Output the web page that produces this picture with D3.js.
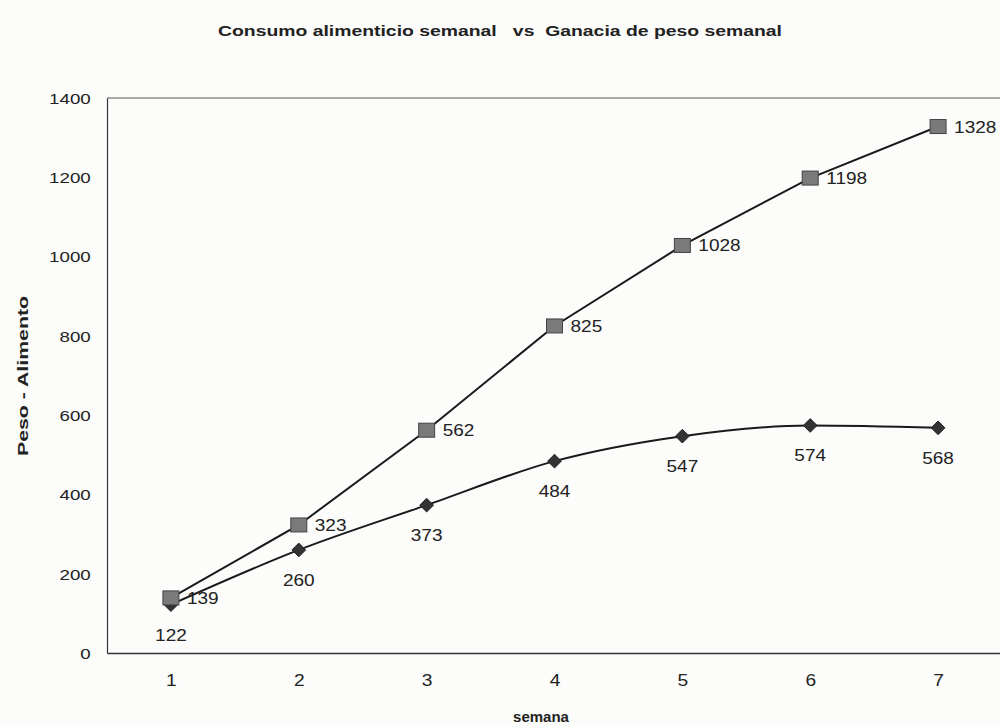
<!DOCTYPE html>
<html><head><meta charset="utf-8">
<script src="https://cdn.jsdelivr.net/npm/d3@7"></script>
<style>body{margin:0;background:#fcfcfa}svg{display:block}text{font-family:"Liberation Sans",Arial,sans-serif;fill:#222}</style>
</head><body><div id="chart"></div>
<script>
const weeks = [1,2,3,4,5,6,7];
const alimento = [139,323,562,825,1028,1198,1328];
const peso = [122,260,373,484,547,574,568];
const yTicks = [0,200,400,600,800,1000,1200,1400];
const title = "Consumo alimenticio semanal   vs  Ganacia de peso semanal";
const xLabel = "semana";
const yLabel = "Peso - Alimento";

const W=1000,H=726;
const svg=d3.select("#chart").append("svg").attr("width",W).attr("height",H);
svg.append("rect").attr("width",W).attr("height",H).attr("fill","#fcfcfa");
const x=d3.scaleLinear().domain([0.5,7.5]).range([107,1002]);
const y=d3.scaleLinear().domain([0,1400]).range([653,98]);

// frame
svg.append("line").attr("x1",x(0.5)).attr("x2",W).attr("y1",y(1400)).attr("y2",y(1400)).attr("stroke","#555").attr("stroke-width",1);
const yAxis=svg.append("g").attr("transform",`translate(${x(0.5)},0)`)
  .call(d3.axisLeft(y).tickValues(yTicks).tickSize(0).tickPadding(13).tickFormat(d3.format("d")));
yAxis.select(".domain").attr("stroke","#333").attr("stroke-width",1.2);
yAxis.selectAll("text").attr("font-size",15).attr("fill","#333").attr("transform","scale(1.25,1)").attr("dy","0.36em");
const xAxis=svg.append("g").attr("transform",`translate(0,${y(0)})`)
  .call(d3.axisBottom(x).tickValues(weeks).tickSize(0).tickPadding(22).tickFormat(d3.format("d")));
xAxis.select(".domain").attr("stroke","#333").attr("stroke-width",1.5);
xAxis.selectAll("text").attr("font-size",16).attr("fill","#333").attr("transform","scale(1.2,1)").attr("x",0);
xAxis.selectAll(".tick").each(function(){ const t=d3.select(this); });

svg.append("text").attr("x",500).attr("y",36).attr("text-anchor","middle").attr("font-size",15).attr("font-weight","bold")
  .attr("xml:space","preserve").attr("textLength",564).attr("lengthAdjust","spacingAndGlyphs").text(title);
svg.append("text").attr("x",541).attr("y",722).attr("text-anchor","middle").attr("font-size",15).attr("font-weight","bold").text(xLabel);
svg.append("text").attr("transform",`translate(28,376) rotate(-90)`).attr("text-anchor","middle").attr("font-size",14).attr("font-weight","bold")
  .attr("textLength",160).attr("lengthAdjust","spacingAndGlyphs").text(yLabel);

const line=d3.line().x((d,i)=>x(weeks[i])).y(d=>y(d));
svg.append("path").datum(alimento).attr("d",line).attr("fill","none").attr("stroke","#1a1a1a").attr("stroke-width",2);
svg.append("path").datum(peso).attr("d",line.curve(d3.curveMonotoneX)).attr("fill","none").attr("stroke","#1a1a1a").attr("stroke-width",2);

// diamonds
svg.selectAll(".dia").data(peso).enter().append("path")
  .attr("d",d3.symbol(d3.symbolDiamond2,120)())
  .attr("transform",(d,i)=>`translate(${x(weeks[i])},${y(d)})`).attr("fill","#333").attr("stroke","#222");
// squares
svg.selectAll(".sq").data(alimento).enter().append("rect")
  .attr("x",(d,i)=>x(weeks[i])-8).attr("y",d=>y(d)-7).attr("width",16).attr("height",14)
  .attr("fill","#7a7a7a").attr("stroke","#444").attr("stroke-width",1);

svg.selectAll(".la").data(alimento).enter().append("text")
  .attr("transform",(d,i)=>`translate(${x(weeks[i])+16},${y(d)+6}) scale(1.12,1)`).attr("font-size",17).attr("fill","#222").text(d=>d);
svg.selectAll(".lp").data(peso).enter().append("text")
  .attr("transform",(d,i)=>`translate(${x(weeks[i])},${y(d)+36}) scale(1.12,1)`).attr("text-anchor","middle").attr("font-size",17).attr("fill","#222").text(d=>d);
</script></body></html>
